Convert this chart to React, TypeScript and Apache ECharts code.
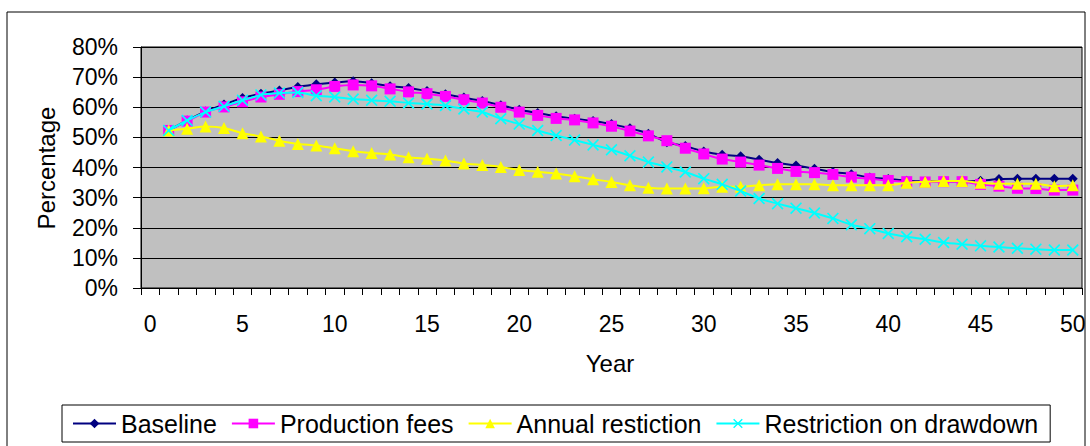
import React, { useEffect, useRef } from "react";
import * as echarts from "echarts";

const years: string[] = [
  "0", "1", "2", "3", "4", "5", "6", "7", "8", "9", "10",
  "11", "12", "13", "14", "15", "16", "17", "18", "19", "20",
  "21", "22", "23", "24", "25", "26", "27", "28", "29", "30",
  "31", "32", "33", "34", "35", "36", "37", "38", "39", "40",
  "41", "42", "43", "44", "45", "46", "47", "48", "49", "50",
];

// values for years 1..50 (percent)
const baseline: number[] = [
  52.3, 55.6, 58.6, 60.9, 63.1, 64.5, 65.6, 66.7, 67.6, 68.2,
  68.6, 68.0, 67.0, 66.4, 65.4, 64.3, 63.2, 62.1, 60.7, 59.2,
  58.1, 57.0, 56.2, 55.4, 54.4, 53.0, 51.2, 48.4, 47.1, 45.3,
  44.2, 43.7, 42.6, 41.5, 40.7, 39.6, 38.5, 37.8, 36.7, 36.2,
  35.6, 35.4, 35.4, 35.4, 35.6, 36.2, 36.3, 36.3, 36.3, 36.3,
];
const productionFees: number[] = [
  52.3, 55.4, 58.4, 60.1, 61.8, 63.4, 64.3, 65.2, 65.8, 66.9,
  67.4, 67.1, 66.1, 65.1, 64.5, 63.6, 62.5, 61.4, 60.0, 58.4,
  57.3, 56.3, 55.8, 54.8, 53.7, 52.1, 50.5, 48.9, 46.4, 44.5,
  42.8, 41.8, 40.8, 39.7, 38.7, 38.3, 37.7, 36.8, 36.3, 35.7,
  35.3, 35.2, 35.3, 35.3, 34.4, 33.8, 33.1, 33.0, 32.5, 32.5,
];
const annualRestiction: number[] = [
  52.3, 52.9, 53.6, 53.1, 51.4, 50.3, 48.9, 47.8, 47.3, 46.4,
  45.4, 44.8, 44.3, 43.4, 42.9, 42.3, 41.3, 40.8, 40.2, 39.2,
  38.6, 38.0, 37.1, 36.1, 35.2, 34.1, 33.3, 33.0, 33.0, 33.1,
  33.6, 33.6, 34.1, 34.4, 34.4, 34.4, 34.1, 34.1, 34.1, 34.1,
  34.9, 35.3, 35.5, 35.5, 34.9, 34.6, 34.6, 34.6, 33.8, 34.1,
];
const restrictionOnDrawdown: number[] = [
  52.3, 55.6, 58.4, 60.3, 62.3, 64.1, 64.7, 64.9, 63.8, 63.4,
  62.7, 62.3, 62.0, 61.4, 61.1, 60.6, 59.4, 58.4, 56.2, 54.4,
  52.3, 50.6, 49.1, 47.5, 45.9, 43.9, 41.8, 40.2, 38.5, 36.3,
  34.4, 32.2, 29.7, 28.0, 26.5, 24.9, 23.1, 21.0, 19.7, 18.1,
  17.0, 16.2, 15.1, 14.5, 14.0, 13.6, 13.2, 12.9, 12.6, 12.6,
];

const yTicks = { min: 0, max: 80, interval: 10 };

const FONT = "'Liberation Sans', Arial, sans-serif";
const X_SYMBOL =
  "path://M0,1 L1,0 L5,4 L9,0 L10,1 L6,5 L10,9 L9,10 L5,6 L1,10 L0,9 L4,5 Z";

export default function App() {
  const ref = useRef<HTMLDivElement>(null);

  useEffect(() => {
    if (!ref.current) return;
    const chart = echarts.init(ref.current, undefined, { renderer: "svg" });
    const withGap = (arr: number[]) => [null, ...arr];
    const mk = (
      name: string,
      data: number[],
      color: string,
      symbol: string,
      symbolSize: number,
      z: number
    ) => ({
      name,
      type: "line",
      data: withGap(data),
      smooth: 0.2,
      symbol,
      symbolSize,
      showSymbol: true,
      z,
      lineStyle: { color, width: 2 },
      itemStyle: { color, borderWidth: 0 },
      emphasis: { disabled: true },
    });

    chart.setOption({
      animation: false,
      backgroundColor: "#ffffff",
      textStyle: { fontFamily: FONT },
      grid: {
        left: 141,
        right: 8,
        top: 47,
        bottom: 158,
        show: true,
        backgroundColor: "#C0C0C0",
        borderColor: "#000000",
        borderWidth: 1,
      },
      xAxis: {
        type: "category",
        data: years,
        boundaryGap: true,
        axisLine: { show: true, lineStyle: { color: "#000", width: 1 } },
        axisTick: { show: true, interval: 0, length: 7, lineStyle: { color: "#000" } },
        axisLabel: {
          interval: 4,
          color: "#000",
          fontSize: 23,
          fontFamily: FONT,
          margin: 24,
        },
        splitLine: { show: false },
      },
      yAxis: {
        type: "value",
        min: yTicks.min,
        max: yTicks.max,
        interval: yTicks.interval,
        axisLine: { show: true, lineStyle: { color: "#000", width: 1 } },
        axisTick: { show: true, length: 8, lineStyle: { color: "#000" } },
        axisLabel: {
          formatter: "{value}%",
          color: "#000",
          fontSize: 23,
          fontFamily: FONT,
          margin: 23,
        },
        splitLine: { show: true, lineStyle: { color: "#000", width: 1 } },
      },
      legend: {
        left: 62,
        top: 405,
        orient: "horizontal",
        itemWidth: 43,
        itemHeight: 12,
        itemGap: 14,
        padding: [6, 12, 6, 10],
        borderColor: "#000",
        borderWidth: 1,
        backgroundColor: "#fff",
        textStyle: { fontSize: 25, color: "#000", fontFamily: FONT },
        data: ["Baseline", "Production fees", "Annual restiction", "Restriction on drawdown"],
      },
      graphic: [
        {
          type: "rect",
          shape: { x: 7, y: 12, width: 1078, height: 450 },
          style: { fill: "none", stroke: "#000", lineWidth: 1 },
          z: -10,
          silent: true,
        },
        {
          type: "text",
          x: 46,
          y: 168,
          rotation: Math.PI / 2,
          style: {
            text: "Percentage",
            fontSize: 24,
            fontFamily: FONT,
            fill: "#000",
            align: "center",
            verticalAlign: "middle",
          },
        },
        {
          type: "text",
          x: 610,
          y: 363,
          style: {
            text: "Year",
            fontSize: 24,
            fontFamily: FONT,
            fill: "#000",
            align: "center",
            verticalAlign: "middle",
          },
        },
      ],
      series: [
        mk("Baseline", baseline, "#000080", "diamond", 10, 2),
        mk("Production fees", productionFees, "#FF00FF", "rect", 11, 3),
        mk("Annual restiction", annualRestiction, "#FFFF00", "triangle", 12, 4),
        mk("Restriction on drawdown", restrictionOnDrawdown, "#00FFFF", X_SYMBOL, 12, 5),
      ],
    });

    return () => chart.dispose();
  }, []);

  return (
    <div
      ref={ref}
      style={{ position: "absolute", left: 0, top: 0, width: 1090, height: 446 }}
    />
  );
}
